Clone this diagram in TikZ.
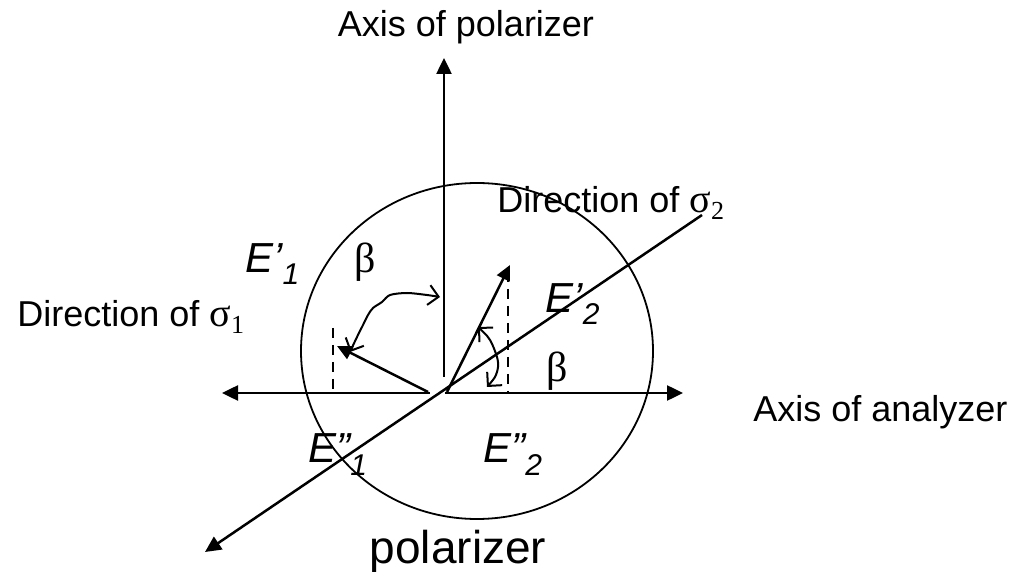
\documentclass[tikz,border=0pt]{standalone}
\usepackage{fontspec}
\setmainfont{Liberation Sans}
\newfontfamily\grk{Liberation Serif}
\usetikzlibrary{arrows.meta, shapes.geometric}
\newcommand\esub[1]{\raisebox{-6pt}{\fontsize{15}{18}\selectfont #1}}
\newcommand\ssub[1]{\raisebox{-3.5pt}{\grk\fontsize{13}{15}\selectfont #1}}
\tikzset{
  lbl/.style={inner sep=0pt, font=\fontsize{18}{22}\selectfont},
  elbl/.style={inner sep=0pt, font=\fontsize{21}{25}\selectfont\itshape},
  ang/.style={inner sep=0pt, font=\fontsize{21}{25}\selectfont\grk},
  axisline/.style={line width=1.25pt, -{Triangle[length=8pt,width=7.5pt]}},
  vecline/.style={line width=1.25pt, -{Triangle[length=7.5pt,width=7pt]}},
  dropline/.style={line width=0.9pt, dash pattern=on 5pt off 3.5pt},
  turn/.style={line width=1pt, {Straight Barb[length=5pt,width=10pt]}-{Straight Barb[length=5pt,width=10pt]}},
  rim/.style={draw, ellipse, line width=0.9pt, inner sep=0pt, minimum width=176pt, minimum height=168pt},
}

\begin{document}
\begin{tikzpicture}[x=0.5pt, y=-0.5pt]
  \useasboundingbox (0,0) rectangle (1029,572);
  % analyzer disc
  \node[rim] (disc) at (477,351) {};
  % axes
  \coordinate (hl) at (430,393);
  \coordinate (hltip) at (222,393);
  \coordinate (hr) at (445,393);
  \coordinate (hrtip) at (683,393);
  \coordinate (vb) at (444,377);
  \coordinate (vtip) at (444,58);
  \coordinate (dtop) at (702,215);
  \coordinate (dtip) at (205,552);
  \draw[axisline] (hl) -- (hltip);
  \draw[axisline] (hr) -- (hrtip);
  \draw[axisline] (vb) -- (vtip);
  \draw[axisline] (dtop) -- (dtip);
  % field vectors and their drops
  \coordinate (e1s) at (428,392);
  \coordinate (e1t) at (337,346);
  \coordinate (e2s) at (447,392);
  \coordinate (e2t) at (510,265);
  \draw[vecline] (e1s) -- (e1t);
  \draw[vecline] (e2s) -- (e2t);
  \coordinate (d1a) at (333,328);
  \coordinate (d1b) at (333,390);
  \coordinate (d2a) at (508,272);
  \coordinate (d2b) at (508,392);
  \draw[dropline] (d1a) -- (d1b);
  \draw[dropline] (d2a) -- (d2b);
  % angle marks
  \draw[turn] plot[smooth] coordinates {(350,352) (357,337) (363,325) (368,315) (373,308) (382,302) (390,295) (407,293) (427,295) (440,297)};
  \draw[turn] plot[smooth] coordinates {(478,327) (490,340) (497,357) (498,367) (495,377) (487,387)};
  % labels
  \node[lbl, anchor=base] (tpol) at (466,37) {Axis of polarizer};
  \node[lbl, anchor=base west] (dir1) at (17,327) {Direction of {\grk\fontsize{20}{24}\selectfont σ}\ssub{1}};
  \node[lbl, anchor=base west] (dir2) at (497,213) {Direction of {\grk\fontsize{20}{24}\selectfont σ}\ssub{2}};
  \node[lbl, anchor=base west] (tana) at (753,422) {Axis of analyzer};
  \node[elbl, anchor=base west] (e1p) at (245,273) {E’\esub{1}};
  \node[elbl, anchor=base west] (e2p) at (545,313) {E’\esub{2}};
  \node[elbl, anchor=base west] (e1pp) at (308,463) {E”\esub{1}};
  \node[elbl, anchor=base west] (e2pp) at (483,463) {E”\esub{2}};
  \node[ang, anchor=base] (b1) at (365,273) {β};
  \node[ang, anchor=base] (b2) at (557,382) {β};
  \node[lbl, font=\fontsize{23}{28}\selectfont, anchor=base] (pol) at (458,563) {polarizer};
\end{tikzpicture}
\end{document}
